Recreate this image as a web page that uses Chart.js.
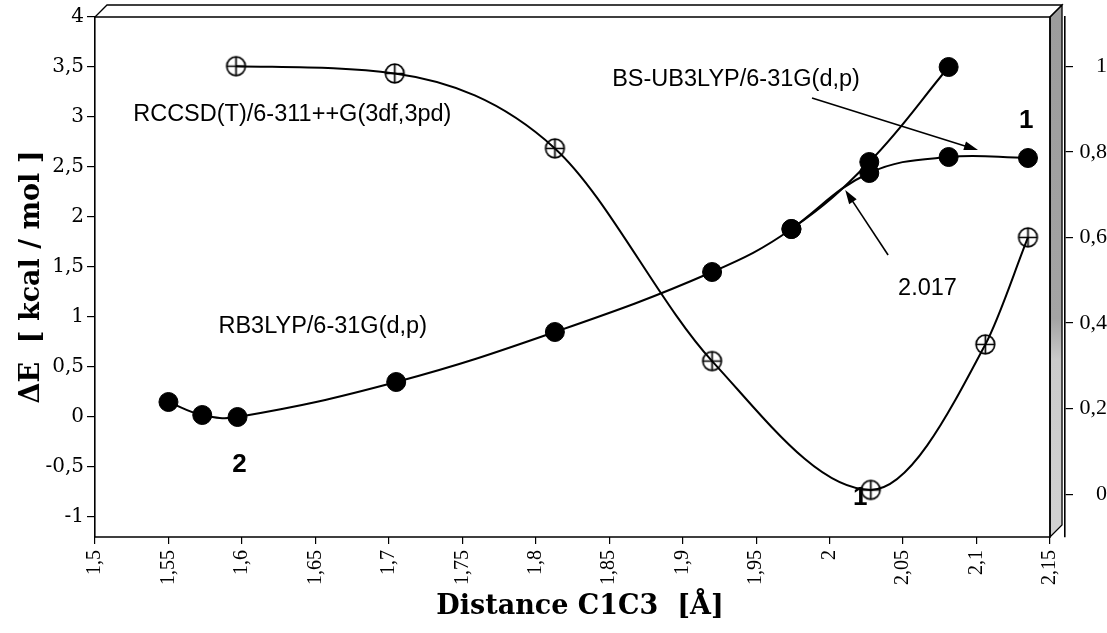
<!DOCTYPE html>
<html>
<head>
<meta charset="utf-8">
<script src="https://cdn.jsdelivr.net/npm/chart.js@4.4.0/dist/chart.umd.min.js"></script>
<style>
  html, body { margin: 0; padding: 0; background: #fff; }
</style>
</head>
<body>
<canvas id="energyChart" width="1107" height="633"></canvas>
<script>
// RB3LYP/6-31G(d,p) - filled dots, left axis
const rbX = [1.55, 1.573, 1.597, 1.705, 1.813, 1.92, 1.974, 2.027, 2.081];
const rbE = [0.15, 0.02, 0.0, 0.35, 0.85, 1.45, 1.88, 2.55, 3.50];

// BS-UB3LYP/6-31G(d,p) - filled dots, left axis (branches off at 2.017)
const bsX = [1.974, 2.027, 2.081, 2.135];
const bsE = [1.88, 2.44, 2.60, 2.59];

// RCCSD(T)/6-311++G(3df,3pd) - crossed circles, right axis
const ccX = [1.596, 1.704, 1.813, 1.92, 2.028, 2.106, 2.135];
const ccE = [1.0, 0.983, 0.808, 0.311, 0.01, 0.35, 0.60];

const leftTicks = [-1, -0.5, 0, 0.5, 1, 1.5, 2, 2.5, 3, 3.5, 4];
const rightTicks = [0, 0.2, 0.4, 0.6, 0.8, 1];
const xTicks = [1.5, 1.55, 1.6, 1.65, 1.7, 1.75, 1.8, 1.85, 1.9, 1.95, 2, 2.05, 2.1, 2.15];

// text labels in data units (x, left axis)
const notes = [
  { text: 'RCCSD(T)/6-311++G(3df,3pd)', x: 1.526, y: 2.96 },
  { text: 'BS-UB3LYP/6-31G(d,p)', x: 1.852, y: 3.31 },
  { text: 'RB3LYP/6-31G(d,p)', x: 1.584, y: 0.84 },
  { text: '2.017', x: 2.0466, y: 1.22 }
];
const structLabels = [
  { text: '1', x: 2.1338, y: 2.89 },
  { text: '2', x: 1.5984, y: -0.55 },
  { text: '1', x: 2.0208, y: -0.88 }
];
const arrows = [
  { from: [1.988, 3.19], to: [2.101, 2.67] },
  { from: [2.0398, 1.62], to: [2.0106, 2.27] }
];

const pts = (xs, ys) => xs.map((x, i) => ({ x: x, y: ys[i] }));
const comma = v => String(parseFloat(v.toFixed(2))).replace('.', ',');

// crossed circle marker
function crossCircle(r) {
  const c = document.createElement('canvas');
  const s = Math.ceil(r * 2 + 4);
  c.width = c.height = s;
  const g = c.getContext('2d');
  const m = s / 2;
  g.strokeStyle = '#000';
  g.lineWidth = 1.7;
  g.beginPath();
  g.arc(m, m, r, 0, Math.PI * 2);
  g.stroke();
  g.beginPath();
  g.moveTo(m - r, m); g.lineTo(m + r, m);
  g.moveTo(m, m - r); g.lineTo(m, m + r);
  g.stroke();
  return c;
}

const DEPTH = 12;

const boxPlugin = {
  id: 'box3d',
  beforeDatasetsDraw(chart) {
    const { ctx, chartArea, scales } = chart;
    const l = chartArea.left, t = chartArea.top, b = chartArea.bottom;
    const r = scales.x.getPixelForValue(2.15);
    ctx.save();
    ctx.strokeStyle = '#000';
    ctx.lineWidth = 1.3;
    // side face
    const grad = ctx.createLinearGradient(0, t, 0, b);
    grad.addColorStop(0, '#9c9c9c');
    grad.addColorStop(0.58, '#a4a4a4');
    grad.addColorStop(0.66, '#cbcbcb');
    grad.addColorStop(1, '#d2d2d2');
    ctx.fillStyle = grad;
    ctx.beginPath();
    ctx.moveTo(r, t);
    ctx.lineTo(r + DEPTH, t - DEPTH);
    ctx.lineTo(r + DEPTH, b - DEPTH);
    ctx.lineTo(r, b);
    ctx.closePath();
    ctx.fill();
    ctx.stroke();
    // top face
    ctx.beginPath();
    ctx.moveTo(l, t);
    ctx.lineTo(l + DEPTH, t - DEPTH);
    ctx.lineTo(r + DEPTH, t - DEPTH);
    ctx.lineTo(r, t);
    ctx.stroke();
    // front edges
    ctx.lineWidth = 1.6;
    ctx.beginPath();
    ctx.moveTo(l, t); ctx.lineTo(r, t);
    ctx.moveTo(l, b); ctx.lineTo(r, b);
    ctx.lineTo(r, t);
    ctx.stroke();
    ctx.restore();
  },
  afterDatasetsDraw(chart) {
    const { ctx, scales } = chart;
    const px = v => scales.x.getPixelForValue(v);
    const py = v => scales.y.getPixelForValue(v);
    ctx.save();
    ctx.fillStyle = '#000';
    ctx.strokeStyle = '#000';
    ctx.textBaseline = 'alphabetic';
    ctx.textAlign = 'left';
    ctx.font = '23.5px "Liberation Sans", Arial, sans-serif';
    notes.forEach(n => ctx.fillText(n.text, px(n.x), py(n.y)));
    ctx.textAlign = 'center';
    ctx.font = 'bold 26px "Liberation Sans", Arial, sans-serif';
    structLabels.forEach(n => ctx.fillText(n.text, px(n.x), py(n.y)));
    // arrows
    ctx.lineWidth = 1.6;
    arrows.forEach(a => {
      const x1 = px(a.from[0]), y1 = py(a.from[1]);
      const x2 = px(a.to[0]), y2 = py(a.to[1]);
      const ang = Math.atan2(y2 - y1, x2 - x1);
      const len = 14, hw = 4.5;
      ctx.beginPath();
      ctx.moveTo(x1, y1);
      ctx.lineTo(x2 - Math.cos(ang) * len * 0.8, y2 - Math.sin(ang) * len * 0.8);
      ctx.stroke();
      ctx.beginPath();
      ctx.moveTo(x2, y2);
      ctx.lineTo(x2 - Math.cos(ang) * len + Math.sin(ang) * hw, y2 - Math.sin(ang) * len - Math.cos(ang) * hw);
      ctx.lineTo(x2 - Math.cos(ang) * len - Math.sin(ang) * hw, y2 - Math.sin(ang) * len + Math.cos(ang) * hw);
      ctx.closePath();
      ctx.fill();
    });
    ctx.restore();
  }
};

const tickFont = { family: '"DejaVu Serif", serif', size: 20 };
const titleFont = { family: '"DejaVu Serif", serif', size: 27, weight: 'bold' };

new Chart(document.getElementById('energyChart'), {
  type: 'scatter',
  data: {
    datasets: [
      {
        label: 'RB3LYP/6-31G(d,p)',
        data: pts(rbX, rbE),
        yAxisID: 'y',
        showLine: true,
        tension: 0.4,
        borderColor: '#000',
        borderWidth: 2,
        pointRadius: 9.5,
        pointBackgroundColor: '#000',
        pointBorderColor: '#000',
        pointBorderWidth: 1,
        clip: false
      },
      {
        label: 'BS-UB3LYP/6-31G(d,p)',
        data: pts(bsX, bsE),
        yAxisID: 'y',
        showLine: true,
        tension: 0.4,
        borderColor: '#000',
        borderWidth: 2,
        pointRadius: 9.5,
        pointBackgroundColor: '#000',
        pointBorderColor: '#000',
        pointBorderWidth: 1,
        clip: false
      },
      {
        label: 'RCCSD(T)/6-311++G(3df,3pd)',
        data: pts(ccX, ccE),
        yAxisID: 'y2',
        showLine: true,
        cubicInterpolationMode: 'monotone',
        borderColor: '#000',
        borderWidth: 2,
        pointStyle: crossCircle(9.3),
        pointRadius: 10,
        clip: false
      }
    ]
  },
  options: {
    responsive: false,
    animation: false,
    layout: { padding: { top: 17, left: 0, right: 0, bottom: 0 } },
    plugins: {
      legend: { display: false },
      tooltip: { enabled: false }
    },
    scales: {
      x: {
        type: 'linear',
        min: 1.5,
        max: 2.1602,
        afterBuildTicks: s => { s.ticks = xTicks.map(v => ({ value: v })); },
        afterFit: s => { s.height = 96; },
        ticks: {
          autoSkip: false,
          minRotation: 90,
          maxRotation: 90,
          padding: 6,
          color: '#000',
          font: { family: '"Liberation Serif", serif', size: 20 },
          callback: v => comma(v)
        },
        grid: { drawOnChartArea: false, color: '#000', tickLength: 7, lineWidth: 1.2 },
        border: { display: false },
        title: {
          display: true,
          text: 'Distance C1C3  [Å]',
          color: '#000',
          font: titleFont,
          padding: { top: 0, bottom: 10 }
        }
      },
      y: {
        position: 'left',
        min: -1.2,
        max: 4,
        afterBuildTicks: s => { s.ticks = leftTicks.map(v => ({ value: v })); },
        afterFit: s => { s.width = 95; },
        ticks: {
          padding: 3,
          color: '#000',
          font: tickFont,
          callback: v => comma(v)
        },
        grid: { drawOnChartArea: false, color: '#000', tickLength: 8, lineWidth: 1.2 },
        border: { display: true, color: '#000', width: 1.6 },
        title: {
          display: true,
          text: 'ΔE  [ kcal / mol ]',
          color: '#000',
          font: titleFont,
          padding: { top: 16, bottom: 0 }
        }
      },
      y2: {
        position: 'right',
        min: -0.1,
        max: 1.115,
        afterBuildTicks: s => { s.ticks = rightTicks.map(v => ({ value: v })); },
        afterFit: s => { s.width = 42; },
        ticks: {
          padding: 2,
          crossAlign: 'far',
          color: '#000',
          font: { family: '"Liberation Serif", serif', size: 22 },
          callback: v => comma(v)
        },
        grid: { drawOnChartArea: false, color: '#000', tickLength: 8, lineWidth: 1.2 },
        border: { display: true, color: '#000', width: 1.6 }
      }
    }
  },
  plugins: [boxPlugin]
});
</script>
</body>
</html>
